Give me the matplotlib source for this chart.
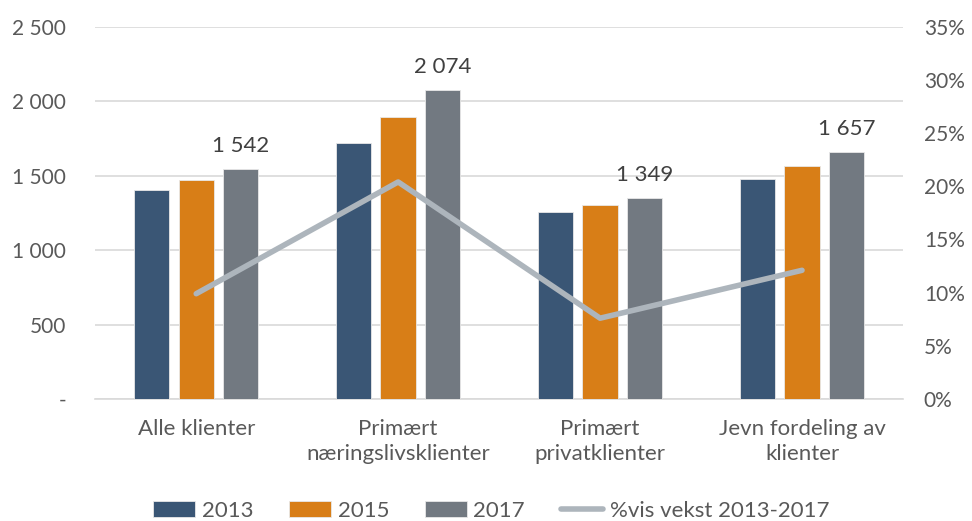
import matplotlib
matplotlib.use("Agg")
import matplotlib.pyplot as plt
import matplotlib.ticker as mticker
import numpy as np

categories = ["Alle klienter", "Primært\nnæringslivsklienter", "Primært\nprivatklienter", "Jevn fordeling av\nklienter"]
v2013 = [1403, 1718, 1253, 1476]
v2015 = [1470, 1893, 1300, 1566]
v2017 = [1542, 2074, 1349, 1657]
growth = [9.9, 20.4, 7.6, 12.1]
series_names = ["2013", "2015", "2017"]
line_name = "%vis vekst 2013-2017"

colors = ["#3A5675", "#D87E17", "#727981"]
line_color = "#ADB5BC"
text_color = "#595959"
grid_color = "#D9D9D9"

plt.rcParams['font.family'] = ['Lato', 'DejaVu Sans']

fig = plt.figure(figsize=(9.72, 5.21), dpi=100)
ax = fig.add_axes([0.098, 0.234, 0.831, 0.715])
ax2 = ax.twinx()

x = np.arange(len(categories))
offset = 0.22
width = 0.175
handles = []
for i, (vals, c, name) in enumerate(zip([v2013, v2015, v2017], colors, series_names)):
    bars = ax.bar(x + (i - 1) * offset, vals, width, color=c, edgecolor="#E8E8E8",
                  linewidth=0.6, label=name, zorder=3)
    handles.append(bars)

# labels only on 2017 bars
for xi, v in zip(x, v2017):
    ax.text(xi + offset, v + 90, f"{v:,}".replace(",", " "), ha="center", va="bottom",
            fontsize=16, color="#404040")

ax.set_xlim(-0.5, len(categories) - 0.5)
ax.set_ylim(0, 2500)
ax.set_yticks(np.arange(0, 2501, 500))
ax.yaxis.set_major_formatter(mticker.FuncFormatter(
    lambda v, p: "-" if v == 0 else f"{int(v):,}".replace(",", " ")))
ax.grid(axis="y", color=grid_color, linewidth=1.2, zorder=0)
ax.set_axisbelow(True)
ax.set_xticks(x)
ax.set_xticklabels(categories, fontsize=16, color=text_color, linespacing=1.35)
ax.tick_params(axis="x", length=0, pad=14)
ax.tick_params(axis="y", length=0, pad=21, labelsize=15, labelcolor=text_color)
for s in ["top", "right", "left"]:
    ax.spines[s].set_visible(False)
ax.spines["bottom"].set_color(grid_color)
ax.spines["bottom"].set_linewidth(1.2)

ln, = ax2.plot(x, growth, color=line_color, linewidth=4, solid_capstyle="round",
               label=line_name, zorder=4)
ax2.set_ylim(0, 35)
ax2.set_yticks(np.arange(0, 36, 5))
ax2.yaxis.set_major_formatter(mticker.FuncFormatter(lambda v, p: f"{int(v)}%"))
ax2.tick_params(axis="y", length=0, pad=15, labelsize=15, labelcolor=text_color)
for s in ax2.spines.values():
    s.set_visible(False)

fig.legend(handles + [ln], series_names + [line_name], loc="lower center",
           bbox_to_anchor=(0.505, -0.038), ncol=4, frameon=False, fontsize=16,
           labelcolor=text_color, handlelength=1.9, handleheight=0.7,
           handletextpad=0.3, columnspacing=1.6)

fig.savefig("out.png", dpi=100)
